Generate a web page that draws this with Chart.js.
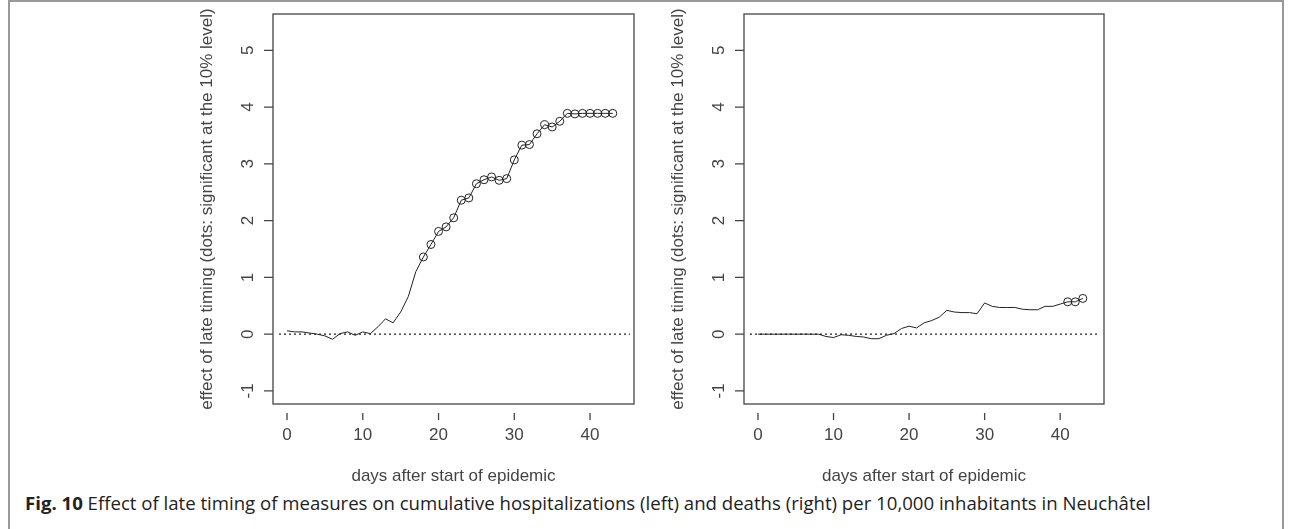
<!DOCTYPE html>
<html>
<head>
<meta charset="utf-8">
<script src="https://cdn.jsdelivr.net/npm/chart.js@4"></script>
<style>
  body { margin: 0; background: #fff; }
  #frame { position: absolute; left: 8px; top: 0; width: 1276px; height: 529px; border-left: 2px solid #999; border-right: 2px solid #999; border-top: 2px solid #999; box-sizing: border-box; }
  .panel { position: absolute; top: 0; width: 460px; height: 490px; }
  #caption { position: absolute; left: 25px; top: 490px; font: 18.6px "Open Sans", sans-serif; color: #222; white-space: nowrap; }
</style>
</head>
<body>
<div id="frame"></div>
<div class="panel" style="left:200px"><canvas id="hosp"></canvas></div>
<div class="panel" style="left:670px"><canvas id="deaths"></canvas></div>
<div id="caption"><b>Fig. 10</b> Effect of late timing of measures on cumulative hospitalizations (left) and deaths (right) per 10,000 inhabitants in Neuchâtel</div>
<script>
// days 0..43
const days = Array.from({ length: 44 }, (_, i) => i);
const hospEffect = [0.06, 0.04, 0.04, 0.02, 0, -0.03, -0.09, 0.01, 0.04, -0.02, 0.04, 0.01,
  0.13, 0.27, 0.2, 0.39, 0.66, 1.1, 1.36, 1.58, 1.81, 1.89, 2.05, 2.36, 2.4, 2.65, 2.72, 2.77,
  2.71, 2.74, 3.07, 3.33, 3.34, 3.53, 3.69, 3.65, 3.75, 3.89, 3.88, 3.89, 3.89, 3.89, 3.89, 3.89];
const deathEffect = [0, 0, 0, 0, 0, 0, 0, 0, 0, -0.04, -0.06, -0.01, -0.02, -0.04, -0.05, -0.08,
  -0.08, -0.02, 0.01, 0.1, 0.14, 0.11, 0.2, 0.24, 0.3, 0.42, 0.39, 0.38, 0.38, 0.36, 0.55, 0.49,
  0.47, 0.47, 0.47, 0.44, 0.43, 0.43, 0.49, 0.49, 0.53, 0.57, 0.57, 0.63];
// first day with a significant (dotted) estimate
const hospSigFrom = 18;
const deathSigFrom = 41;
const xTicks = [0, 10, 20, 30, 40];
const yTicks = [-1, 0, 1, 2, 3, 4, 5];

const rAxes = {
  id: "rAxes",
  afterDraw(chart) {
    const { ctx, chartArea: a, scales: { x, y } } = chart;
    ctx.save();
    ctx.strokeStyle = "#444";
    ctx.lineWidth = 1.3;
    ctx.strokeRect(a.left, a.top, a.right - a.left, a.bottom - a.top);
    // dotted zero line
    ctx.setLineDash([2, 3]);
    ctx.strokeStyle = "#222";
    ctx.beginPath();
    ctx.moveTo(a.left + 6, y.getPixelForValue(0));
    ctx.lineTo(a.right - 4, y.getPixelForValue(0));
    ctx.stroke();
    ctx.setLineDash([]);
    ctx.strokeStyle = "#444";
    ctx.fillStyle = "#444";
    ctx.font = "17px Arial, 'Liberation Sans', sans-serif";
    ctx.textAlign = "center";
    ctx.textBaseline = "middle";
    // x ticks, below the box
    ctx.beginPath();
    xTicks.forEach(v => {
      const px = x.getPixelForValue(v);
      ctx.moveTo(px, a.bottom + 9);
      ctx.lineTo(px, a.bottom + 16);
      ctx.fillText(String(v), px, a.bottom + 31);
    });
    ctx.stroke();
    ctx.fillText("days after start of epidemic", (a.left + a.right) / 2, a.bottom + 72);
    // y ticks, left of the box
    ctx.beginPath();
    yTicks.forEach(v => {
      const py = y.getPixelForValue(v);
      ctx.moveTo(a.left - 9, py);
      ctx.lineTo(a.left, py);
    });
    ctx.stroke();
    yTicks.forEach(v => {
      ctx.save();
      ctx.translate(a.left - 25, y.getPixelForValue(v));
      ctx.rotate(-Math.PI / 2);
      ctx.fillText(String(v), 0, 0);
      ctx.restore();
    });
    ctx.save();
    ctx.translate(a.left - 66, (a.top + a.bottom) / 2);
    ctx.rotate(-Math.PI / 2);
    ctx.fillText("effect of late timing (dots: significant at the 10% level)", 0, 0);
    ctx.restore();
    ctx.restore();
  }
};

function makePanel(id, values, sigFrom, leftPad) {
  new Chart(document.getElementById(id), {
    type: "line",
    data: {
      labels: days,
      datasets: [{
        data: days.map((d, i) => ({ x: d, y: values[i] })),
        borderColor: "#222",
        borderWidth: 1,
        pointRadius: days.map(d => (d >= sigFrom ? 4 : 0)),
        pointBackgroundColor: "rgba(0,0,0,0)",
        pointBorderColor: "#222",
        pointBorderWidth: 1,
        tension: 0
      }]
    },
    options: {
      responsive: false,
      animation: false,
      devicePixelRatio: 1,
      layout: { padding: { left: leftPad, top: 14, right: 26, bottom: 86 } },
      plugins: { legend: { display: false }, tooltip: { enabled: false } },
      scales: {
        x: { type: "linear", min: -1.85, max: 45.8, display: false },
        y: { min: -1.23, max: 5.64, display: false }
      }
    },
    plugins: [rAxes]
  });
}

document.getElementById("hosp").width = 460;
document.getElementById("hosp").height = 490;
document.getElementById("deaths").width = 460;
document.getElementById("deaths").height = 490;
makePanel("hosp", hospEffect, hospSigFrom, 73);
makePanel("deaths", deathEffect, deathSigFrom, 74);
</script>
</body>
</html>
